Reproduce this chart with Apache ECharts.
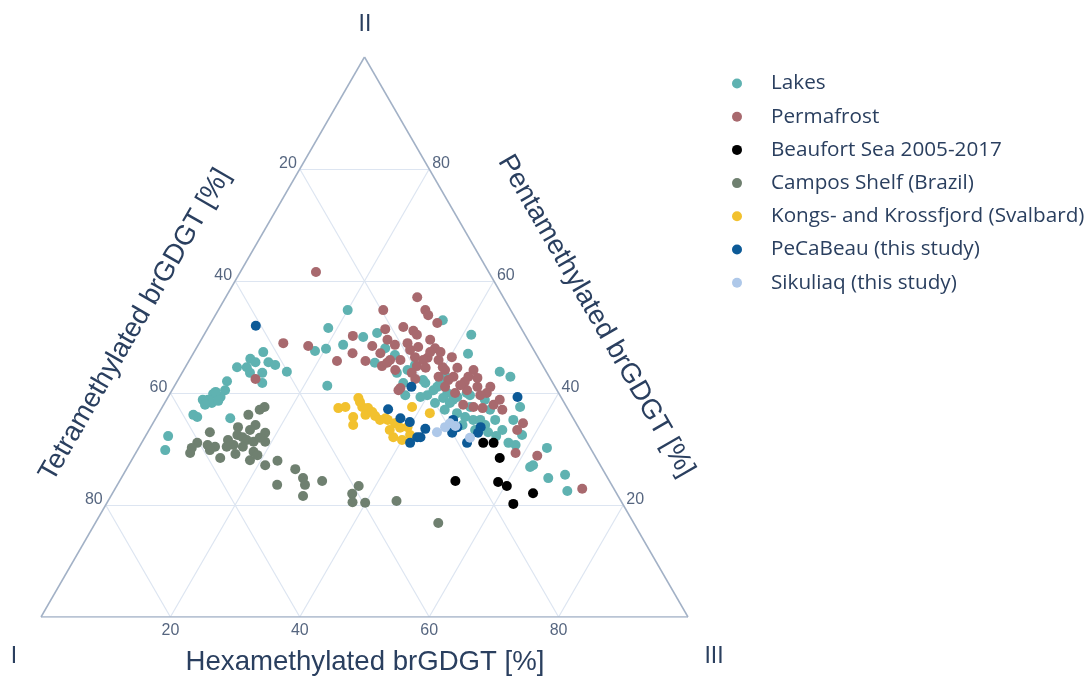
<!DOCTYPE html>
<html>
<head>
<meta charset="utf-8">
<script src="https://cdn.jsdelivr.net/npm/echarts@6/dist/echarts.min.js"></script>
<style>html,body{margin:0;padding:0;background:#fff}#c{width:1090px;height:677px}</style>
</head>
<body>
<div id="c"></div>
<script>
// Ternary values: [Tetramethylated, Pentamethylated, Hexamethylated] in %
const ticks = [20, 40, 60, 80];
const tickLabels = ['20', '40', '60', '80'];
const seriesNames = ['Lakes', 'Permafrost', 'Beaufort Sea 2005-2017', 'Campos Shelf (Brazil)', 'Kongs- and Krossfjord (Svalbard)', 'PeCaBeau (this study)', 'Sikuliaq (this study)'];
const seriesColors = ['#5fb2b1', '#a8696e', '#000000', '#6f8070', '#f2c12e', '#0c5a97', '#aec8e9'];

const lakes = [
[42.0,47.3,10.7],[44.6,46.1,9.3],[44.1,45.5,10.4],[45.9,44.6,9.5],[47.4,44.6,8.0],[42.1,45.5,12.4],[41.3,45.0,13.7],[40.1,43.8,16.1],
[45.9,43.6,10.5],[44.0,43.6,12.4],[44.9,41.8,13.3],[50.2,42.1,7.7],[51.3,40.5,8.2],[53.5,39.8,6.7],[52.6,39.3,8.1],[54.8,38.8,6.4],
[55.6,38.8,5.6],[54.5,38.2,7.3],[58.0,35.7,6.3],[58.4,36.1,5.5],[53.0,35.5,11.5],[64.2,32.3,3.5],[65.9,29.8,4.3],[52.9,40.2,6.9],
[55.7,37.9,6.4],[53.3,38.6,8.1],[29.8,51.6,18.6],[33.9,47.5,18.6],[32.0,47.9,20.1],[29.0,48.6,22.4],[25.2,54.8,20.0],[25.2,50.0,24.8],
[22.7,50.7,26.6],[35.1,41.3,23.6],[11.4,53.0,35.6],[8.3,50.4,41.3],[10.5,47.0,42.5],[23.2,43.6,33.2],[21.3,44.1,34.6],[19.8,42.3,37.9],
[18.2,41.1,40.7],[17.2,40.0,42.8],[16.9,38.8,44.3],[14.2,40.0,45.8],[15.6,35.2,49.2],[20.5,39.6,39.9],[25.7,45.4,28.9],[23.1,41.8,35.1],
[21.7,39.3,39.0],[19.1,40.5,40.4],[18.3,39.1,42.6],[17.7,38.2,44.1],[17.5,36.4,46.1],[16.6,35.7,47.7],[14.5,35.2,50.3],[12.2,35.2,52.6],
[12.0,33.4,54.6],[12.2,31.1,56.7],[7.2,37.5,55.3],[9.4,35.2,55.4],[9.4,32.5,58.1],[19.7,41.8,38.5],[17.1,42.3,40.6],[16.0,39.3,44.7],
[14.9,37.5,47.6],[7.2,43.8,49.0],[6.0,42.9,51.1],[6.7,30.2,63.1],[11.0,26.8,62.2],[10.4,27.1,62.5],[9.2,24.8,66.0],[6.3,25.4,68.3],
[7.4,22.5,70.1],[22.8,48.0,29.2],[21.9,46.8,31.3],[19.7,45.0,35.3],[16.0,43.2,40.8],[12.0,38.8,49.2],[12.1,37.0,50.9],[16.2,33.4,50.4],
[14.4,33.0,52.6],[20.0,38.2,41.8],[17.7,34.3,48.0],[14.2,34.3,51.5],[13.5,32.3,54.2],[11.3,30.7,58.0],[19.1,37.0,43.9],[13.9,39.6,46.5],
[23.9,39.6,36.5]
];
const permafrost = [
[26.7,61.6,11.7],[38.1,48.9,13.0],[34.5,48.4,17.1],[31.4,45.7,22.9],[45.6,42.5,11.9],[13.3,57.1,29.6],[19.7,54.8,25.5],[13.2,54.8,32.0],
[13.2,53.9,32.9],[12.5,52.5,35.0],[26.7,50.2,23.1],[28.3,47.1,24.6],[27.0,45.7,27.3],[24.6,48.4,27.0],[21.1,51.4,27.5],[18.1,51.8,30.1],
[16.9,51.1,32.0],[16.7,50.4,32.9],[21.7,49.5,28.8],[24.0,47.1,28.9],[24.9,44.8,30.3],[23.1,45.9,31.0],[21.5,45.9,32.6],[18.9,48.9,32.2],
[19.1,47.7,33.2],[17.6,48.2,34.2],[15.1,49.5,35.4],[15.1,48.0,36.9],[17.1,46.3,36.6],[19.5,44.8,35.7],[15.6,44.6,39.8],[13.3,46.4,40.3],
[14.8,42.9,42.3],[11.1,44.1,44.8],[12.5,42.9,44.6],[15.8,37.9,46.3],[12.0,41.1,46.9],[20.9,42.5,36.6],[24.0,40.9,35.1],[16.2,47.3,36.5],
[19.0,46.4,34.6],[18.0,45.9,36.1],[15.6,45.9,38.5],[13.4,44.5,42.1],[15.5,44.1,40.4],[17.1,42.9,40.0],[15.9,42.3,41.8],[13.5,42.0,44.5],
[11.2,42.7,46.1],[10.0,41.1,48.9],[11.1,40.0,48.9],[13.9,40.5,45.6],[14.4,37.5,48.1],[13.1,37.3,49.6],[11.1,37.9,51.0],[9.7,38.8,51.5],
[10.2,37.0,52.8],[17.0,41.1,41.9],[23.8,45.4,30.8],[24.5,40.5,35.0],[20.9,43.6,35.5],[8.2,34.6,57.2],[9.7,33.4,56.9],[12.0,29.3,58.7],
[8.9,28.8,62.3],[4.9,22.9,72.2],[21.0,48.6,30.4],[18.3,44.5,37.2],[14.5,41.4,44.1],[12.3,39.6,48.1],[16.0,40.0,44.0],[23.2,44.1,32.7],
[14.6,47.3,38.1]
];
const beaufort = [
[16.1,31.1,52.8],[14.5,31.1,54.4],[14.9,28.4,56.7],[23.8,24.3,51.9],[17.3,24.1,58.6],[16.3,23.4,60.3],[12.9,22.1,65.0],[16.9,20.2,62.9]
];
const campos = [
[46.7,37.5,15.8],[47.7,37.0,15.3],[49.9,36.1,14.0],[49.7,34.3,16.0],[52.6,33.9,13.5],[57.4,33.0,9.6],[48.9,32.9,18.2],[53.4,32.5,14.1],
[52.8,32.1,15.1],[52.4,31.6,16.0],[55.3,31.6,13.1],[51.5,31.3,17.2],[60.3,31.1,8.6],[58.9,30.7,10.4],[57.9,30.4,11.7],[49.7,31.3,19.0],
[54.9,30.7,14.4],[53.6,30.4,16.0],[56.1,30.4,13.5],[62.3,29.3,8.4],[59.0,29.8,11.2],[52.4,29.5,18.1],[55.4,29.1,15.5],[58.1,28.4,13.5],
[53.7,28.0,18.3],[52.1,28.9,19.0],[51.8,27.1,21.1],[49.5,27.9,22.6],[47.5,26.4,26.1],[47.1,24.8,28.1],[44.4,24.3,31.3],[47.4,23.6,29.0],
[51.7,23.6,24.7],[48.7,21.6,29.7],[39.2,23.4,37.4],[40.9,22.0,37.1],[41.6,20.5,37.9],[39.7,20.4,39.9],[34.7,20.7,44.6],[30.2,16.8,53.0],
[61.6,30.2,8.2],[51.0,33.4,15.6],[50.2,32.0,17.8]
];
const kongs = [
[35.4,37.3,27.3],[33.9,35.7,30.4],[31.4,39.1,29.5],[31.6,37.5,30.9],[30.8,37.3,31.9],[30.4,35.9,33.7],[30.0,35.2,34.8],[34.6,34.3,31.1],
[28.8,35.2,36.0],[28.0,34.6,37.4],[27.6,33.8,38.6],[29.5,32.1,38.4],[26.7,32.5,40.8],[23.9,37.5,38.6],[21.7,36.4,41.9],[26.4,33.9,39.7],
[29.0,35.5,35.5],[34.2,37.5,28.3],[31.8,36.1,32.1],[30.5,36.6,32.9],[29.4,33.4,37.2],[28.4,31.6,40.0],[31.5,38.4,30.1]
];
const pecabeau = [
[40.8,52.0,7.2],[22.2,41.1,36.7],[27.8,37.1,35.1],[26.7,35.5,37.8],[25.6,34.8,39.6],[23.8,33.6,42.6],[25.8,32.1,42.1],[27.4,31.1,41.5],
[18.7,35.2,46.1],[18.7,33.9,47.4],[20.0,32.9,47.1],[18.6,31.1,50.3],[25.3,32.1,42.6],[15.1,33.9,51.0],[6.7,39.3,54.0],[16.0,32.9,51.1]
];
const sikuliaq = [
[22.3,33.0,44.7],[20.6,33.9,45.5],[19.5,34.6,45.9],[17.7,32.0,50.3],[19.0,34.1,47.0]
];
const allData = [lakes, permafrost, beaufort, campos, kongs, pecabeau, sikuliaq];

// ternary -> cartesian (x = hexa + penta/2, y = penta)
function toXY(d) { return [d[2] + d[1] / 2, d[1]]; }

const textColor = '#2a3f5f';
const gridColor = '#dde5f1';
const edgeColor = '#a2b1c6';

const gridSegs = [];
ticks.forEach(v => {
  gridSegs.push({coords: [toXY([v, 100 - v, 0]), toXY([v, 0, 100 - v])]});
  gridSegs.push({coords: [toXY([100 - v, v, 0]), toXY([0, v, 100 - v])]});
  gridSegs.push({coords: [toXY([100 - v, 0, v]), toXY([0, 100 - v, v])]});
});
const edges = [
  {coords: [toXY([100, 0, 0]), toXY([0, 0, 100])]},
  {coords: [toXY([0, 0, 100]), toXY([0, 100, 0])]},
  {coords: [toXY([0, 100, 0]), toXY([100, 0, 0])]}
];

const tickFont = {fontFamily: 'Liberation Sans, Arial, sans-serif', fontSize: 16, color: textColor};

const series = [
  {type: 'lines', coordinateSystem: 'cartesian2d', silent: true, z: 1,
   lineStyle: {color: gridColor, width: 1.2, opacity: 1}, data: gridSegs},
  {type: 'lines', coordinateSystem: 'cartesian2d', silent: true, z: 2,
   lineStyle: {color: edgeColor, width: 1.5, opacity: 1}, data: edges},
  {type: 'scatter', symbolSize: 0, silent: true, z: 3,
   data: ticks.map((v, i) => ({value: toXY([v, 100 - v, 0]), name: tickLabels[i]})),
   label: Object.assign({show: true, position: 'left', distance: 3, offset: [0, -5], formatter: p => p.name}, tickFont)},
  {type: 'scatter', symbolSize: 0, silent: true, z: 3,
   data: ticks.map((v, i) => ({value: toXY([0, v, 100 - v]), name: tickLabels[i]})),
   label: Object.assign({show: true, position: 'right', distance: 3, offset: [0, -5], formatter: p => p.name}, tickFont)},
  {type: 'scatter', symbolSize: 0, silent: true, z: 3,
   data: ticks.map((v, i) => ({value: toXY([100 - v, 0, v]), name: tickLabels[i]})),
   label: Object.assign({show: true, position: 'bottom', distance: 6, formatter: p => p.name}, tickFont)}
];
allData.forEach((arr, i) => {
  series.push({
    name: seriesNames[i], type: 'scatter', symbol: 'circle', symbolSize: 10, z: 10 + i,
    itemStyle: {color: seriesColors[i], opacity: 1},
    data: arr.map(toXY)
  });
});

const titleFont = 'Liberation Sans, Arial, sans-serif';
const chart = echarts.init(document.getElementById('c'), null, {renderer: 'canvas'});
chart.setOption({
  animation: false,
  backgroundColor: '#ffffff',
  grid: {left: 41, top: 57, width: 647, height: 560, containLabel: false},
  xAxis: {type: 'value', min: 0, max: 100, show: false},
  yAxis: {type: 'value', min: 0, max: 100, show: false},
  legend: {
    data: seriesNames, orient: 'vertical', left: 732, top: 73, padding: 0,
    itemWidth: 10, itemHeight: 10, itemGap: 12.2, icon: 'circle',
    textStyle: {fontFamily: 'Open Sans, sans-serif', fontSize: 20.7, color: textColor, lineHeight: 20, padding: [0, 0, 0, 24]},
    selectedMode: false
  },
  graphic: [
    {type: 'text', x: 14, y: 657, style: {text: 'I', font: '23px ' + titleFont, fill: textColor, textAlign: 'center', textVerticalAlign: 'middle'}},
    {type: 'text', x: 365, y: 25, style: {text: 'II', font: '23px ' + titleFont, fill: textColor, textAlign: 'center', textVerticalAlign: 'middle'}},
    {type: 'text', x: 714, y: 657, style: {text: 'III', font: '23px ' + titleFont, fill: textColor, textAlign: 'center', textVerticalAlign: 'middle'}},
    {type: 'text', x: 365, y: 662, style: {text: 'Hexamethylated brGDGT [%]', font: '27.6px ' + titleFont, fill: textColor, textAlign: 'center', textVerticalAlign: 'middle'}},
    {type: 'text', x: 135, y: 325, rotation: Math.PI / 3, style: {text: 'Tetramethylated brGDGT [%]', font: '27.6px ' + titleFont, fill: textColor, textAlign: 'center', textVerticalAlign: 'middle'}},
    {type: 'text', x: 596, y: 316, rotation: -Math.PI / 3, style: {text: 'Pentamethylated brGDGT [%]', font: '27.6px ' + titleFont, fill: textColor, textAlign: 'center', textVerticalAlign: 'middle'}}
  ],
  series: series
});
</script>
</body>
</html>
